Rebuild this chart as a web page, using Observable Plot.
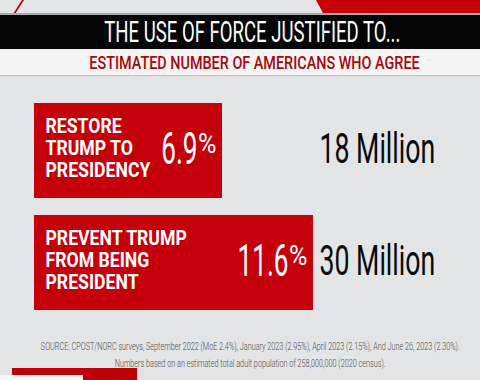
<!DOCTYPE html>
<html>
<head>
<meta charset="utf-8">
<script src="https://cdn.jsdelivr.net/npm/d3@7"></script>
<script src="https://cdn.jsdelivr.net/npm/@observablehq/plot@0.6"></script>
<style>
  html, body { margin: 0; padding: 0; }
  body { width: 480px; height: 380px; overflow: hidden; position: relative; background: #e2e4e6; font-family: Roboto, "Noto Sans", sans-serif; }
  .abs { position: absolute; }
  .fit { display: inline-block; white-space: nowrap; transform-origin: 50% 50%; }
  #topRed { left: 0; top: 0; width: 480px; height: 14px; background: #c8000a; clip-path: polygon(316px 0, 480px 0, 480px 13px, 323px 13px); }
  #topLine { left: 0; top: 0; width: 40px; height: 14px; background: #b0000a; clip-path: polygon(22px 0, 24px 0, 15px 14px, 13px 14px); }
  #topShadow { left: 0; top: 13px; width: 480px; height: 2px; background: #a8aaac; }
  #titleBand { left: 0; top: 15px; width: 480px; height: 34px; background: #050505; text-align: center; line-height: 34px; color: #fff; font-size: 29px; font-weight: 400; padding-left: 21px; box-sizing: border-box; }
  #subBand { left: 0; top: 49px; width: 480px; height: 26px; background: #f3f3f3; text-align: center; line-height: 26px; padding-top: 1px; padding-left: 28px; box-sizing: border-box; color: #a20a0e; font-size: 18px; font-weight: 500; }
  #subShadow { left: 0; top: 75px; width: 480px; height: 2px; background: linear-gradient(#b9bbbd, #e2e4e6); }
  #chart { left: 0; top: 76px; }
  #caption { left: 0; top: 338px; width: 480px; padding-left: 20px; box-sizing: border-box; display: flex; flex-direction: column; align-items: center; color: #4e4e4e; font-size: 11px; line-height: 17px; font-weight: 300; }
  #botRed { left: 12px; top: 368px; width: 125px; height: 12px; background: #c00008; }
  #botWhite { left: 0; top: 375px; width: 83px; height: 5px; background: #f6f6f6; }
</style>
</head>
<body>
<div id="topRed" class="abs"></div>
<div id="topLine" class="abs"></div>
<div id="topShadow" class="abs"></div>
<div id="titleBand" class="abs"><span class="fit" data-k="0.64">THE USE OF FORCE JUSTIFIED TO...</span></div>
<div id="subBand" class="abs"><span class="fit" data-k="0.80">ESTIMATED NUMBER OF AMERICANS WHO AGREE</span></div>
<div id="subShadow" class="abs"></div>
<div id="chart" class="abs"></div>
<div id="caption" class="abs">
  <span class="fit" data-k="0.66">SOURCE: CPOST/NORC surveys, September 2022 (MoE 2.4%), January 2023 (2.95%), April 2023 (2.15%), And June 26, 2023 (2.30%).</span>
  <span class="fit" data-k="0.66">Numbers based on an estimated total adult population of 258,000,000 (2020 census).</span>
</div>
<div id="botRed" class="abs"></div>
<div id="botWhite" class="abs"></div>
<script>
// ---- data ----
const labels = ["RESTORE\nTRUMP TO\nPRESIDENCY", "PREVENT TRUMP\nFROM BEING\nPRESIDENT"];
const percents = [6.9, 11.6];
const millions = [18, 30];

// ---- layout constants ----
const barStart = -2.81;   // left edge of bars in value units
const domainEnd = 11.91;  // right edge of plotting frame (column of "Million" labels)
const red = "#c4000b";

const rows = labels.map((label, i) => ({label, pct: percents[i], millions: millions[i]}));

const chart = Plot.plot({
  width: 480,
  height: 260,
  marginLeft: 34,
  marginRight: 161,
  marginTop: 10,
  marginBottom: 8,
  style: {background: "transparent", fontFamily: "Roboto, sans-serif", overflow: "visible"},
  x: {domain: [barStart, domainEnd], axis: null},
  y: {domain: labels, padding: 0.15, axis: null},
  marks: [
    Plot.barX(rows, {y: "label", x1: () => barStart, x2: "pct", fill: red}),
    Plot.text(rows, {y: "label", x: () => barStart, text: "label", textAnchor: "start", dx: 11, dy: -3,
      fill: "white", fontWeight: "bold", fontSize: 21, lineHeight: 1.03, ariaDescription: "label"}),
    Plot.text(rows, {y: "label", x: "pct", text: d => d.pct.toFixed(1), textAnchor: "end", dx: -25, dy: -1,
      fill: "white", fontSize: 45, fontWeight: 400, ariaDescription: "pct"}),
    Plot.text(rows, {y: "label", x: "pct", text: () => "%", textAnchor: "end", dx: -6, dy: -18, lineAnchor: "top",
      fill: "white", fontSize: 28, fontWeight: 400, ariaDescription: "pctsign"}),
    Plot.text(rows, {y: "label", frameAnchor: "right", text: d => `${d.millions} Million`, textAnchor: "start", dy: -1,
      fill: "#0a0a0a", fontSize: 42, fontWeight: 400, ariaDescription: "millions"})
  ]
});
document.getElementById("chart").appendChild(chart);

// horizontal condensing of SVG text (the original uses a condensed typeface)
function condense(svg, desc, k) {
  svg.querySelectorAll(`g[aria-description="${desc}"] text`).forEach(t => {
    const spans = t.querySelectorAll("tspan");
    const els = spans.length ? Array.from(spans) : [t];
    els.forEach(el => {
      const w = el.getComputedTextLength();
      el.setAttribute("textLength", (w * k).toFixed(2));
      el.setAttribute("lengthAdjust", "spacingAndGlyphs");
    });
  });
}
condense(chart, "label", 0.84);
condense(chart, "pct", 0.58);
condense(chart, "pctsign", 0.9);
condense(chart, "millions", 0.635);

// horizontal condensing of HTML text
document.querySelectorAll(".fit").forEach(s => {
  s.style.transform = `scaleX(${s.dataset.k})`;
});
</script>
</body>
</html>
